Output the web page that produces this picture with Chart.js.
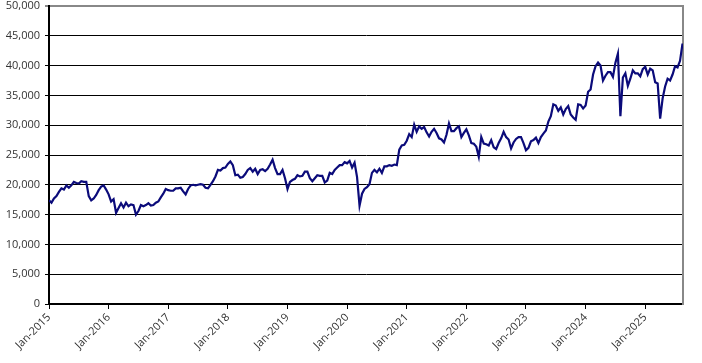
<!DOCTYPE html>
<html>
<head>
<meta charset="utf-8">
<script src="https://cdn.jsdelivr.net/npm/chart.js@4"></script>
<style>
  html, body { margin: 0; padding: 0; background: #fff; }
  #wrap { width: 702px; height: 363px; }
</style>
</head>
<body>
<div id="wrap"><canvas id="indexChart"></canvas></div>
<script>
// two readings per month (1st and 16th), starting Jan-2015
const startYear = 2015;
const v2015 = [17400, 17000, 17700, 18100, 18800, 19400, 19200, 19900, 19500, 19900, 20500, 20300, 20200, 20600, 20500, 20500, 18100, 17400, 17700, 18300, 19100, 19700, 19900, 19200];
const v2016 = [18400, 17200, 17600, 15300, 16100, 16900, 16200, 17000, 16400, 16700, 16600, 15000, 15600, 16600, 16400, 16600, 16900, 16500, 16600, 17000, 17200, 17900, 18500, 19300];
const v2017 = [19100, 19000, 19000, 19400, 19400, 19500, 18900, 18400, 19300, 19900, 20000, 19900, 20000, 20100, 20000, 19500, 19400, 20000, 20600, 21400, 22500, 22400, 22800, 22900];
const v2018 = [23500, 23900, 23300, 21600, 21700, 21200, 21300, 21800, 22500, 22800, 22200, 22700, 21800, 22500, 22600, 22300, 22700, 23400, 24200, 22800, 21800, 21800, 22500, 21100];
const v2019 = [19300, 20500, 20800, 21000, 21600, 21400, 21500, 22200, 22200, 21100, 20600, 21100, 21600, 21500, 21500, 20400, 20700, 22000, 21800, 22500, 22900, 23300, 23300, 23800];
const v2020 = [23600, 24000, 22900, 23700, 21300, 16500, 18500, 19300, 19600, 20100, 22000, 22500, 22100, 22700, 22000, 23100, 23100, 23300, 23200, 23400, 23300, 25900, 26600, 26700];
const v2021 = [27400, 28500, 28000, 30100, 28900, 29800, 29400, 29700, 28800, 28100, 28900, 29400, 28700, 27800, 27600, 27100, 28400, 30300, 29000, 29000, 29500, 29800, 28000, 28700];
const v2022 = [29300, 28300, 27000, 26900, 26400, 24700, 28000, 26900, 26800, 26600, 27500, 26300, 26000, 27000, 27800, 28900, 28000, 27600, 26100, 27100, 27700, 28000, 28000, 27000];
const v2023 = [25800, 26200, 27300, 27500, 27900, 27000, 28000, 28600, 29100, 30600, 31500, 33500, 33300, 32400, 33000, 31800, 32700, 33200, 31800, 31300, 30900, 33500, 33400, 32800];
const v2024 = [33300, 35600, 36000, 38500, 39900, 40500, 40000, 37500, 38300, 38900, 38900, 38100, 40500, 42000, 31500, 38000, 38700, 36600, 37800, 39200, 38700, 38700, 38200, 39400];
const v2025 = [39800, 38500, 39500, 39200, 37200, 37000, 31100, 34500, 36500, 37800, 37500, 38500, 39900, 39700, 40800, 43700];

const yTicks = [0, 5000, 10000, 15000, 20000, 25000, 30000, 35000, 40000, 45000, 50000];
const xTickLabels = ["Jan-2015", "Jan-2016", "Jan-2017", "Jan-2018", "Jan-2019", "Jan-2020",
                     "Jan-2021", "Jan-2022", "Jan-2023", "Jan-2024", "Jan-2025"];

const series = [].concat(v2015, v2016, v2017, v2018, v2019, v2020, v2021, v2022, v2023, v2024, v2025);
const points = series.map((v, i) => ({ x: i / 2, y: v }));

const font = { family: "'Open Sans', 'Liberation Sans', sans-serif", size: 11 };

new Chart(document.getElementById("indexChart"), {
    type: "line",
    data: {
        datasets: [{
            data: points,
            borderColor: "#0b0b7a",
            borderWidth: 2.2,
            pointRadius: 0,
            tension: 0,
            fill: false
        }]
    },
    options: {
        responsive: true,
        maintainAspectRatio: false,
        animation: false,
        layout: { padding: 0 },
        plugins: { legend: { display: false }, tooltip: { enabled: false } },
        scales: {
            x: {
                type: "linear",
                min: 0,
                max: 127.6,
                afterBuildTicks: scale => {
                    scale.ticks = xTickLabels.map((_, i) => ({ value: i * 12 }));
                },
                afterFit: scale => { scale.height = 59; },
                ticks: {
                    font: font,
                    color: "#333",
                    maxRotation: 45,
                    minRotation: 45,
                    padding: 2,
                    callback: (v) => xTickLabels[Math.round(v / 12)]
                },
                grid: { drawOnChartArea: false, color: "#000", tickLength: 5, lineWidth: 1 },
                border: { color: "#000", width: 2 }
            },
            y: {
                min: 0,
                max: 50000,
                afterBuildTicks: scale => {
                    scale.ticks = yTicks.map(v => ({ value: v }));
                },
                afterFit: scale => {
                    scale.width = 49;
                    scale.paddingTop = 6;
                    scale.paddingBottom = 0;
                },
                ticks: {
                    font: font,
                    color: "#333",
                    padding: 5,
                    callback: v => v.toLocaleString("en-US")
                },
                grid: {
                    color: ctx => (ctx.tick && ctx.tick.value === 50000 ? "#888" : "#000"),
                    lineWidth: ctx => (ctx.tick && ctx.tick.value === 50000 ? 2 : 1),
                    tickLength: 4
                },
                border: { color: "#000", width: 2 }
            },
            yRight: {
                position: "right",
                min: 0,
                max: 50000,
                afterFit: scale => { scale.width = 19; },
                ticks: { display: false },
                grid: { drawOnChartArea: false, drawTicks: false },
                border: { color: "#888", width: 2 }
            }
        }
    }
});
</script>
</body>
</html>
